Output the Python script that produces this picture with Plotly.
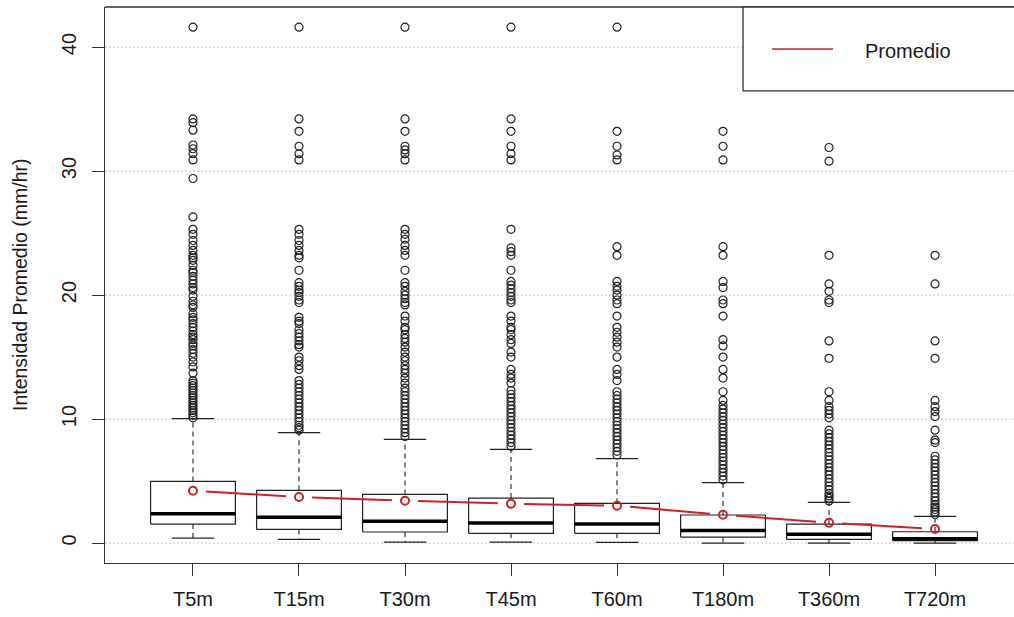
import plotly.graph_objects as go

categories = ["T5m", "T15m", "T30m", "T45m", "T60m", "T180m", "T360m", "T720m"]
q1 = [1.53, 1.10, 0.89, 0.78, 0.78, 0.48, 0.30, 0.19]
median = [2.37, 2.07, 1.75, 1.61, 1.53, 1.02, 0.70, 0.35]
q3 = [4.97, 4.25, 3.92, 3.63, 3.20, 2.26, 1.53, 0.91]
lower_whisker = [0.40, 0.30, 0.08, 0.08, 0.05, 0.0, 0.0, 0.0]
upper_whisker = [10.03, 8.90, 8.36, 7.55, 6.80, 4.87, 3.28, 2.15]
means = [4.22, 3.71, 3.41, 3.17, 3.01, 2.28, 1.64, 1.13]

out_T5m = [41.6, 34.2, 33.9, 33.3, 32.1, 31.8, 31.4, 30.9, 29.4, 26.3, 25.3, 24.9, 24.4, 24.0,
           23.6, 23.2, 23.0, 22.8, 22.4, 22.0, 21.8, 21.5, 21.2, 20.9, 20.6, 20.4, 19.9, 19.5,
           19.2, 19.0, 18.5, 18.2, 18.0, 17.7, 17.4, 17.1, 16.8, 16.6, 16.4, 16.1, 15.9, 15.6,
           15.3, 15.0, 14.6, 14.2, 13.7, 13.1, 12.9, 12.7, 12.5, 12.3, 12.1, 11.9, 11.7, 11.5,
           11.3, 11.1, 10.9, 10.7, 10.5, 10.3, 10.1]
out_T15m = [41.6, 34.2, 33.2, 32.0, 31.4, 30.9, 25.3, 24.9, 24.4, 24.0, 23.6, 23.2, 23.0, 22.0,
            21.0, 20.7, 20.4, 20.2, 19.9, 19.6, 19.4, 18.2, 17.9, 17.7, 17.2, 16.9, 16.6, 16.3,
            16.0, 15.8, 15.0, 14.7, 14.3, 14.0, 13.1, 12.8, 12.5, 12.2, 11.9, 11.6, 11.3, 11.0,
            10.7, 10.4, 10.1, 9.8, 9.5, 9.3, 9.1]
out_T30m = [41.6, 34.2, 33.2, 32.0, 31.7, 31.4, 30.9, 25.3, 24.9, 24.5, 24.0, 23.6, 23.2, 22.0,
            21.0, 20.7, 20.3, 20.0, 19.7, 19.4, 19.2, 18.3, 17.9, 17.4, 17.2, 16.8, 16.5, 16.2,
            15.8, 15.4, 15.0, 14.7, 14.3, 14.0, 13.7, 13.3, 12.9, 12.5, 12.2, 11.9, 11.6, 11.3,
            11.0, 10.7, 10.4, 10.1, 9.8, 9.5, 9.2, 8.9, 8.6]
out_T45m = [41.6, 34.2, 33.2, 32.0, 31.4, 30.9, 25.3, 23.8, 23.5, 23.2, 22.0, 21.1, 20.8, 20.5,
            20.2, 19.9, 19.6, 19.4, 18.3, 17.9, 17.4, 17.2, 16.8, 16.4, 16.1, 15.4, 15.0, 14.0,
            13.6, 13.3, 12.9, 12.3, 12.0, 11.7, 11.4, 11.1, 10.8, 10.5, 10.2, 9.9, 9.6, 9.3,
            9.0, 8.7, 8.4, 8.1, 7.8]
out_T60m = [41.6, 33.2, 32.0, 31.3, 30.9, 23.9, 23.2, 21.1, 20.7, 20.4, 20.0, 19.6, 19.3, 18.3,
            17.4, 17.0, 16.6, 16.2, 15.8, 15.0, 14.0, 13.6, 13.1, 12.2, 11.9, 11.6, 11.3, 11.0,
            10.7, 10.4, 10.1, 9.8, 9.5, 9.2, 8.9, 8.6, 8.3, 8.0, 7.7, 7.4, 7.1]
out_T180m = [33.2, 32.0, 30.9, 23.9, 23.2, 21.1, 20.6, 19.6, 19.3, 18.3, 16.4, 15.9, 15.0, 14.0,
             13.3, 12.2, 11.5, 11.1, 10.8, 10.5, 10.2, 9.9, 9.6, 9.3, 9.0, 8.7, 8.4, 8.1, 7.8,
             7.5, 7.2, 6.9, 6.6, 6.3, 6.0, 5.7, 5.4, 5.1]
out_T360m = [31.9, 30.8, 23.2, 20.9, 20.3, 19.6, 19.4, 16.3, 14.9, 12.2, 11.5, 11.0, 10.7, 10.4,
             10.1, 9.1, 8.8, 8.5, 8.2, 7.9, 7.6, 7.3, 7.0, 6.7, 6.4, 6.1, 5.8, 5.5, 5.2, 4.9,
             4.6, 4.3, 4.0, 3.8, 3.6, 3.4]
out_T720m = [23.2, 20.9, 16.3, 14.9, 11.5, 11.0, 10.6, 10.2, 9.1, 8.3, 8.1, 7.0, 6.7, 6.4, 6.1,
             5.8, 5.5, 5.2, 4.9, 4.6, 4.3, 4.0, 3.7, 3.4, 3.1, 2.9, 2.7, 2.5, 2.3]
outliers = [out_T5m, out_T15m, out_T30m, out_T45m, out_T60m, out_T180m, out_T360m, out_T720m]

y_ticks = [0, 10, 20, 30, 40]

FONT = "Liberation Sans, Arial, sans-serif"
TXT = "#1a1a1a"
BLK = "#222222"
RED = "#cc2222"
HALF_BOX = 0.4
HALF_CAP = 0.2
GAP = 0.123

pos = list(range(1, len(categories) + 1))

fig = go.Figure()

# horizontal dotted gridlines
for t in y_ticks:
    fig.add_shape(type="line", xref="paper", x0=0, x1=1, yref="y", y0=t, y1=t,
                  line=dict(color="#c8c8c8", width=1, dash="2px,2px"), layer="below")

# whiskers (dashed)
wx, wy = [], []
for p, a, b, lo, hi in zip(pos, q1, q3, lower_whisker, upper_whisker):
    wx += [p, p, None, p, p, None]
    wy += [b, hi, None, a, lo, None]
fig.add_trace(go.Scatter(x=wx, y=wy, mode="lines", line=dict(color=BLK, width=1.1, dash="5px,4px"),
                         showlegend=False, hoverinfo="skip"))

# staples
sx, sy = [], []
for p, lo, hi in zip(pos, lower_whisker, upper_whisker):
    sx += [p - HALF_CAP, p + HALF_CAP, None, p - HALF_CAP, p + HALF_CAP, None]
    sy += [hi, hi, None, lo, lo, None]
fig.add_trace(go.Scatter(x=sx, y=sy, mode="lines", line=dict(color=BLK, width=1.3),
                         showlegend=False, hoverinfo="skip"))

# boxes
bx, by = [], []
for p, a, b in zip(pos, q1, q3):
    bx += [p - HALF_BOX, p + HALF_BOX, p + HALF_BOX, p - HALF_BOX, p - HALF_BOX, None]
    by += [a, a, b, b, a, None]
fig.add_trace(go.Scatter(x=bx, y=by, mode="lines", line=dict(color=BLK, width=1.2),
                         fill="toself", fillcolor="white",
                         showlegend=False, hoverinfo="skip"))

# medians
mx, my = [], []
for p, m in zip(pos, median):
    mx += [p - HALF_BOX, p + HALF_BOX, None]
    my += [m, m, None]
fig.add_trace(go.Scatter(x=mx, y=my, mode="lines", line=dict(color="black", width=3.5),
                         showlegend=False, hoverinfo="skip"))

# outliers
ox, oy = [], []
for p, vals in zip(pos, outliers):
    ox += [p] * len(vals)
    oy += vals
fig.add_trace(go.Scatter(x=ox, y=oy, mode="markers",
                         marker=dict(symbol="circle-open", size=8, color=BLK, line=dict(width=1.2)),
                         showlegend=False, hoverinfo="skip"))

# mean line with gaps around points (type = "b")
lx, ly = [], []
for i in range(len(pos) - 1):
    x0, x1 = pos[i], pos[i + 1]
    y0, y1 = means[i], means[i + 1]
    lx += [x0 + GAP, x1 - GAP, None]
    ly += [y0 + (y1 - y0) * GAP, y1 - (y1 - y0) * GAP, None]
fig.add_trace(go.Scatter(x=lx, y=ly, mode="lines", line=dict(color=RED, width=2),
                         showlegend=False, hoverinfo="skip"))
fig.add_trace(go.Scatter(x=pos, y=means, mode="markers", name="Promedio",
                         marker=dict(symbol="circle-open", size=8, color=RED, line=dict(width=2)),
                         showlegend=False))

# frame top line
fig.add_shape(type="line", xref="paper", yref="paper", x0=0, x1=1, y0=1, y1=1,
              line=dict(color="#333333", width=1.3))

# legend box (manual, like R's legend at topright)
fig.add_shape(type="rect", xref="paper", yref="paper", x0=0.7019, x1=1.05, y0=0.849, y1=1.0,
              line=dict(color="#333333", width=1.3), fillcolor="white")
fig.add_shape(type="line", xref="paper", yref="paper", x0=0.7338, x1=0.8009, y0=0.9245, y1=0.9245,
              line=dict(color=RED, width=1.5))
fig.add_annotation(xref="paper", yref="paper", x=0.8339, y=0.921, text="Promedio",
                   showarrow=False, xanchor="left", yanchor="middle",
                   font=dict(family=FONT, size=20, color=TXT))

# y-axis title
fig.add_annotation(xref="paper", yref="paper", x=0, y=0.5, xshift=-85,
                   text="Intensidad Promedio (mm/hr)", textangle=-90, showarrow=False,
                   xanchor="center", yanchor="middle",
                   font=dict(family=FONT, size=19.5, color=TXT))

fig.update_layout(
    width=1014, height=617,
    margin=dict(l=105, r=0, t=7, b=54),
    paper_bgcolor="white", plot_bgcolor="white",
    font=dict(family=FONT, size=20, color=TXT),
    showlegend=False,
    xaxis=dict(range=[0.17, 8.745], tickmode="array", tickvals=pos, ticktext=categories,
               showgrid=False, zeroline=False, showline=True, linecolor="#333333", linewidth=1.3,
               ticks="outside", ticklen=12, tickcolor="#333333", tickwidth=1.3,
               ticklabelstandoff=6, tickfont=dict(family=FONT, size=20, color=TXT)),
    yaxis=dict(range=[-1.61, 43.23], tickmode="array", tickvals=y_ticks,
               ticktext=[str(v) for v in y_ticks],
               showgrid=False, zeroline=False, showline=True, linecolor="#333333", linewidth=1.3,
               ticks="outside", ticklen=12, tickcolor="#333333", tickwidth=1.3,
               tickangle=-90, ticklabelstandoff=8, tickfont=dict(family=FONT, size=20, color=TXT)),
)

fig.write_html(
    "out.html",
    config={"displayModeBar": False},
    post_script="document.body.style.margin='0';document.body.style.overflow='hidden';",
)
